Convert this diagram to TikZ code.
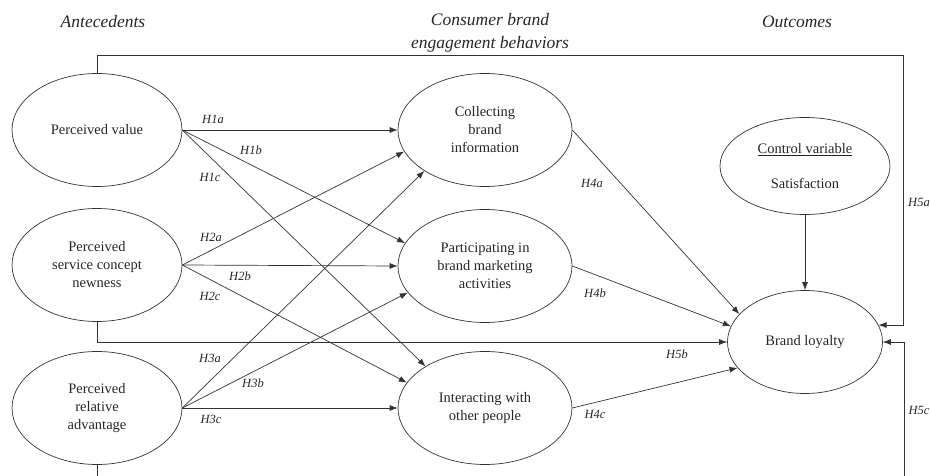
\documentclass[tikz,border=0pt]{standalone}
\usepackage{fontspec}
\setmainfont{Liberation Serif}
\usetikzlibrary{arrows.meta,shapes.geometric}

\begin{document}
\begin{tikzpicture}[
  x=1pt, y=-1pt,
  construct/.style={ellipse, draw=black!80, line width=0.7pt, text=black!85,
    minimum width=170pt, minimum height=113pt, inner sep=0pt, align=center,
    font=\fontsize{14.5}{18}\selectfont},
  arr/.style={-{Latex[length=8pt,width=6pt]}, draw=black!80, line width=0.7pt},
  hyp/.style={font=\fontsize{12.5}{14}\selectfont\itshape, text=black!85, inner sep=0pt},
  heading/.style={font=\fontsize{17.5}{23}\selectfont\itshape, text=black!85, align=center, inner sep=0pt}]

\useasboundingbox (0,0) rectangle (930,476);
\clip (0,0) rectangle (930,476);

% headings
\node[heading] (ant) at (103,22) {Antecedents};
\node[heading] (cbe) at (490,33) {Consumer brand\\engagement behaviors};
\node[heading] (out) at (797,22) {Outcomes};

% constructs
\node[construct] (pv) at (97,130) {Perceived value};
\node[construct] (pscn) at (97,265) {Perceived\\service concept\\newness};
\node[construct] (pra) at (97,408) {Perceived\\relative\\advantage};
\node[construct, minimum width=174pt] (cbi) at (485,130) {Collecting\\brand\\information};
\node[construct, minimum width=174pt] (pbma) at (485,266) {Participating in\\brand marketing\\activities};
\node[construct, minimum width=174pt] (iwop) at (485,408) {Interacting with\\other people};
\node[construct, minimum height=97pt] (sat) at (805,166) {\underline{Control variable}\\[17pt]Satisfaction};
\node[construct, minimum width=155pt, minimum height=103pt] (bl) at (805,342) {Brand loyalty};

% antecedents -> behaviors
\draw[arr] (pv.east) -- (cbi.west);
\draw[arr] (pv.east) -- (pbma.164);
\draw[arr] (pv.east) -- (iwop.145);
\draw[arr] (pscn.east) -- (cbi.195);
\draw[arr] (pscn.east) -- (pbma.west);
\draw[arr] (pscn.east) -- (iwop.162);
\draw[arr] (pra.east) -- (cbi.214);
\draw[arr] (pra.east) -- (pbma.199);
\draw[arr] (pra.east) -- (iwop.west);

% behaviors -> loyalty
\draw[arr] (cbi.east) -- (bl.157);
\draw[arr] (pbma.east) -- (bl.168);
\draw[arr] (iwop.east) -- (bl.201);
\draw[arr] (sat.south) -- (bl.north);

% direct paths
\coordinate (topright) at (903,55);
\coordinate (botright) at (904,490);
\draw[arr] (pv.north) |- (topright) |- (bl.13);
\draw[arr] (pscn.south) |- (bl.west);
\draw[arr] (pra.south) |- (botright) |- (bl.east);

% hypothesis labels
\node[hyp] (l1a) at (213,119) {H1a};
\node[hyp] (l1b) at (251,150) {H1b};
\node[hyp] (l1c) at (210,177) {H1c};
\node[hyp] (l2a) at (211,237) {H2a};
\node[hyp] (l2b) at (240,276) {H2b};
\node[hyp] (l2c) at (210,296) {H2c};
\node[hyp] (l3a) at (210,358) {H3a};
\node[hyp] (l3b) at (253,383) {H3b};
\node[hyp] (l3c) at (211,419) {H3c};
\node[hyp] (l4a) at (592,183) {H4a};
\node[hyp] (l4b) at (595,293) {H4b};
\node[hyp] (l4c) at (595,414) {H4c};
\node[hyp] (l5a) at (919,202) {H5a};
\node[hyp] (l5b) at (677,354) {H5b};
\node[hyp] (l5c) at (919,410) {H5c};
\end{tikzpicture}
\end{document}
